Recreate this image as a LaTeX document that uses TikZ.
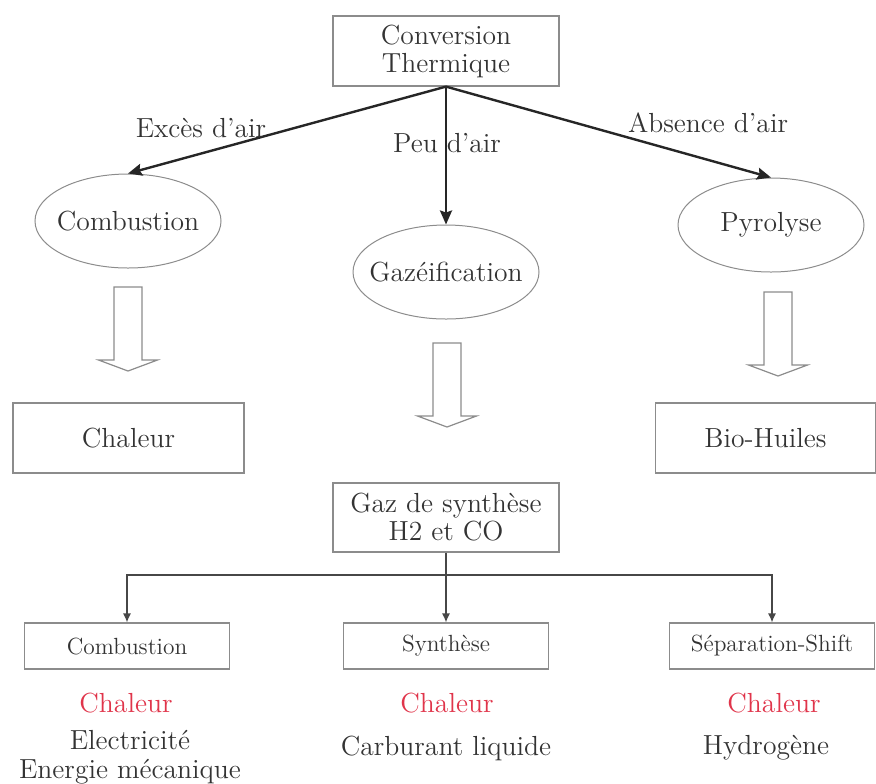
\documentclass[tikz,border=0pt]{standalone}
\usepackage{tikz}
\usetikzlibrary{arrows.meta,shapes.geometric}
\definecolor{TextDark}{HTML}{333333}
\definecolor{BorderGray}{HTML}{8C8C8C}
\definecolor{LineDark}{HTML}{262626}
\definecolor{HeatRed}{HTML}{E0354B}

% hollow down arrow: x centre, top y
\newcommand{\hollowarrow}[2]{%
  \draw[hollow] (#1-14,#2) -- (#1+14,#2) -- (#1+14,#2+73) -- (#1+29.5,#2+73)
  -- (#1,#2+84) -- (#1-29.5,#2+73) -- (#1-14,#2+73) -- cycle;}

\begin{document}
\begin{tikzpicture}[x=0.5pt, y=-0.5pt,
    every node/.style={text=TextDark, font=\fontsize{13.8}{14}\selectfont},
    rectbox/.style={draw=BorderGray, line width=0.6pt, minimum height=35pt,
      align=center, inner sep=0pt},
    procoval/.style={ellipse, draw=BorderGray, line width=0.5pt,
      minimum width=93pt, minimum height=47pt, inner sep=0pt},
    subbox/.style={draw=BorderGray, line width=0.6pt, minimum width=102.5pt,
      minimum height=23pt, inner sep=0pt, font=\fontsize{11.7}{14}\selectfont},
    flow/.style={LineDark, line width=1.2pt, -{Stealth[length=7pt,width=6pt,inset=1pt]}},
    tree/.style={LineDark!85, line width=0.6pt, -{Latex[length=4.5pt,width=4pt]}},
    hollow/.style={draw=BorderGray, line width=0.6pt, fill=white},
    heat/.style={text=HeatRed}]
  \useasboundingbox (0,0) rectangle (876,783);
  % Top
  \node[rectbox, minimum width=113pt] (conv) at (446,51) {Conversion\\Thermique};
  \node[procoval] (comb) at (128,221) {\makebox[0pt]{Combustion}};
  \node[procoval] (gazf) at (446,272) {\makebox[0pt]{Gazéification}};
  \node[procoval] (pyro) at (771,225) {\makebox[0pt]{Pyrolyse}};
  \draw[flow] (conv.south) -- (comb.north);
  \draw[flow] (conv.south) -- (gazf.north);
  \draw[flow] (conv.south) -- (pyro.north);
  \node (lexc) at (201,128) {Excès d’air};
  \node (lpeu) at (447,143) {Peu d’air};
  \node (labs) at (708,123) {Absence d’air};
  % Hollow arrows
  \hollowarrow{128}{287}
  \hollowarrow{447}{343}
  \hollowarrow{778}{292}
  % Products
  \node[rectbox, minimum width=115.5pt] (heat) at (128.5,438) {Chaleur};
  \node[rectbox, minimum width=110pt] (bio) at (765.5,438) {Bio-Huiles};
  \node[rectbox, minimum width=113pt, minimum height=34.5pt] (syn) at (446,517.5)
    {Gaz de synthèse\\H2 et CO};
  % Syngas routes
  \node[subbox] (cmb) at (127,646) {Combustion};
  \node[subbox] (sth) at (446,646) {Synthèse};
  \node[subbox] (sep) at (772,646) {Séparation-Shift};
  \coordinate (split) at (446,575);
  \draw[tree, -] (syn.south) -- (split);
  \draw[tree] (split) -| (cmb.north);
  \draw[tree] (split) -- (sth.north);
  \draw[tree] (split) -| (sep.north);
  % Outputs
  \node[heat] (h1) at (126,703) {Chaleur};
  \node[heat] (h2) at (447,703) {Chaleur};
  \node[heat] (h3) at (774,703) {Chaleur};
  \node[align=center, font=\fontsize{13.8}{14.5}\selectfont] (o1) at (130,757.5)
    {Electricité\\Energie mécanique};
  \node (o2) at (446,748) {Carburant liquide};
  \node (o3) at (766,748) {Hydrogène};
\end{tikzpicture}
\end{document}
